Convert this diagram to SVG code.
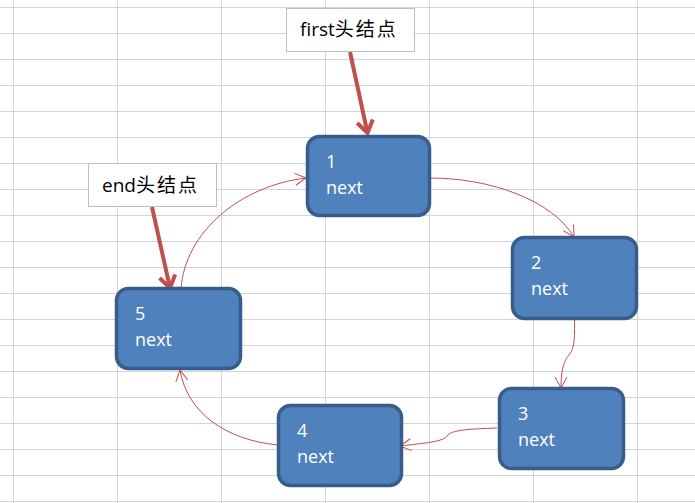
<svg xmlns="http://www.w3.org/2000/svg" width="695" height="503" viewBox="0 0 695 503">
<style>
.grid line{stroke:#d4d4d4;stroke-width:1}
.node rect{fill:#4f81bd;stroke:#385d8a;stroke-width:3.5}
.node text{fill:#ffffff;font-family:"Open Sans","Liberation Sans",sans-serif;font-size:18px}
.label rect{fill:#ffffff;stroke:#bfbfbf;stroke-width:1}
.label text{fill:#000000;font-family:"Open Sans","Noto Sans CJK SC",sans-serif;font-size:19px}
.thin{fill:none;stroke:#c0504d;stroke-width:1;marker-end:url(#thinArrow)}
.thick{fill:none;stroke:#c0504d;stroke-width:4;marker-end:url(#thickArrow)}
</style>
<defs>
<marker id="thinArrow" viewBox="-12 -7 14 14" refX="0" refY="0" markerWidth="14" markerHeight="14" markerUnits="userSpaceOnUse" orient="auto">
<path d="M-11,-6 L0,0 L-11,6" fill="none" stroke="#c0504d" stroke-width="1"/>
</marker>
<marker id="thickArrow" viewBox="-14 -10 16 20" refX="0" refY="0" markerWidth="16" markerHeight="20" markerUnits="userSpaceOnUse" orient="auto">
<path d="M-12,-8 L0,0 L-12,8" fill="none" stroke="#c0504d" stroke-width="4" stroke-linejoin="miter"/>
</marker>
</defs>
<rect x="0" y="0" width="695" height="503" fill="#ffffff"/>
<g class="grid">
<line x1="13.5" y1="0" x2="13.5" y2="503"/>
<line x1="117.5" y1="0" x2="117.5" y2="503"/>
<line x1="221.5" y1="0" x2="221.5" y2="503"/>
<line x1="325.5" y1="0" x2="325.5" y2="503"/>
<line x1="429.5" y1="0" x2="429.5" y2="503"/>
<line x1="533.5" y1="0" x2="533.5" y2="503"/>
<line x1="637.5" y1="0" x2="637.5" y2="503"/>
<line x1="0" y1="7.5" x2="695" y2="7.5"/>
<line x1="0" y1="33.5" x2="695" y2="33.5"/>
<line x1="0" y1="59.5" x2="695" y2="59.5"/>
<line x1="0" y1="85.5" x2="695" y2="85.5"/>
<line x1="0" y1="111.5" x2="695" y2="111.5"/>
<line x1="0" y1="137.5" x2="695" y2="137.5"/>
<line x1="0" y1="163.5" x2="695" y2="163.5"/>
<line x1="0" y1="189.5" x2="695" y2="189.5"/>
<line x1="0" y1="215.5" x2="695" y2="215.5"/>
<line x1="0" y1="241.5" x2="695" y2="241.5"/>
<line x1="0" y1="267.5" x2="695" y2="267.5"/>
<line x1="0" y1="293.5" x2="695" y2="293.5"/>
<line x1="0" y1="319.5" x2="695" y2="319.5"/>
<line x1="0" y1="345.5" x2="695" y2="345.5"/>
<line x1="0" y1="371.5" x2="695" y2="371.5"/>
<line x1="0" y1="397.5" x2="695" y2="397.5"/>
<line x1="0" y1="423.5" x2="695" y2="423.5"/>
<line x1="0" y1="449.5" x2="695" y2="449.5"/>
<line x1="0" y1="475.5" x2="695" y2="475.5"/>
<line x1="0" y1="501.5" x2="695" y2="501.5"/>
</g>
<g id="connectors">
<path class="thin" d="M430,178 C490,178 552,200 574,237"/>
<path class="thin" d="M574.5,320 C575,345 573,350 569,355 C563,362 561,372 561,388"/>
<path class="thin" d="M497,428 C470,429 452,430 448,435 C444,442 425,443 400,446"/>
<path class="thin" d="M278,445 C225,440 187,412 180,370"/>
<path class="thin" d="M181,289 C185,232 240,186 306,178"/>
<path class="thick" d="M350,52 L367.5,133"/>
<path class="thick" d="M152,207 L170,288"/>
</g>
<g id="node1" class="node">
<rect x="307.5" y="136.5" width="122" height="79" rx="12"/>
<text x="326" y="168">1</text>
<text x="326" y="194">next</text>
</g>
<g id="node2" class="node">
<rect x="512.5" y="237.5" width="124" height="81" rx="12"/>
<text x="531" y="269">2</text>
<text x="531" y="295">next</text>
</g>
<g id="node3" class="node">
<rect x="499.5" y="388.5" width="124" height="80" rx="12"/>
<text x="518" y="420">3</text>
<text x="518" y="446">next</text>
</g>
<g id="node4" class="node">
<rect x="278.5" y="405.5" width="123" height="80" rx="12"/>
<text x="297" y="437">4</text>
<text x="297" y="463">next</text>
</g>
<g id="node5" class="node">
<rect x="116.5" y="288.5" width="124" height="80" rx="12"/>
<text x="135" y="320">5</text>
<text x="135" y="346">next</text>
</g>
<g id="label-first" class="label">
<rect x="286.5" y="8.5" width="128" height="43"/>
<text x="300" y="36">first<tspan letter-spacing="2">头结点</tspan></text>
</g>
<g id="label-end" class="label">
<rect x="88.5" y="163.5" width="128" height="43"/>
<text x="102" y="192">end<tspan letter-spacing="2">头结点</tspan></text>
</g>
</svg>
